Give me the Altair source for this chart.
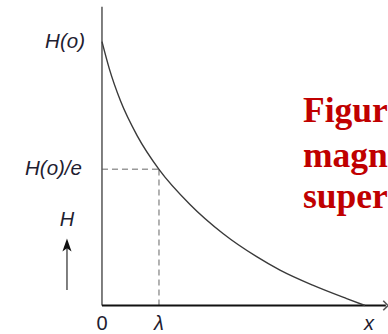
import altair as alt
import pandas as pd

# Field profile H(x) inside the sample, normalised to H(o) = 1 and x in units of lambda
curve_x = [0.0, 0.128, 0.328, 0.619, 1.0, 1.544, 2.128, 2.714, 3.123, 3.707, 4.293, 4.614]
curve_h = [1.0, 0.898, 0.774, 0.643, 0.516, 0.383, 0.272, 0.185, 0.134, 0.076, 0.026, 0.0]

lam = 1.0            # penetration depth
h_lam = 0.516        # field level marked at x = lambda
x_axis_end = 4.98
y_axis_top = 1.132

# Axis-level labels
tick_text = ["H(o)", "H(o)/e"]
tick_value = [1.0, h_lam]
tick_dx = [-17, -20]

bottom_text = ["0", "λ", "x"]
bottom_x = [0.0, lam, 4.684]
bottom_style = ["normal", "italic", "italic"]

# "H" with an upward arrow beside the vertical axis
h_label_x, h_label_y = -0.614, 0.325
arrow_x, arrow_y0, arrow_y1, arrow_head_y = -0.614, 0.059, 0.241, 0.229

# Caption lines
caption_lines = ["Figur", "magn", "super"]
caption_x = 3.526
caption_y = [0.696, 0.526, 0.368]

X_DOMAIN = [-1.789, 5.018]
Y_DOMAIN = [-0.108, 1.158]

xs = alt.Scale(domain=X_DOMAIN, nice=False, zero=False)
ys = alt.Scale(domain=Y_DOMAIN, nice=False, zero=False)

def X(field):
    return alt.X(field, type="quantitative", scale=xs, axis=None)

def Y(field):
    return alt.Y(field, type="quantitative", scale=ys, axis=None)

curve_df = pd.DataFrame({"x": curve_x, "h": curve_h})
curve = alt.Chart(curve_df).mark_line(
    color="#3a3a3a", strokeWidth=1.4, interpolate="monotone"
).encode(x=X("x"), y=Y("h"))

y_axis_line = alt.Chart(pd.DataFrame({"x": [0.0], "y": [0.0], "y2": [y_axis_top]})).mark_rule(
    color="#555555", strokeWidth=1.5
).encode(x=X("x"), y=Y("y"), y2="y2")
x_axis_line = alt.Chart(pd.DataFrame({"x": [0.0], "x2": [x_axis_end], "y": [0.0]})).mark_rule(
    color="#111111", strokeWidth=2
).encode(x=X("x"), x2="x2", y=Y("y"))

x_arrow = alt.Chart(pd.DataFrame({"x": [5.018], "y": [0.0]})).mark_point(
    shape="M-1,-1L0,0L-1,1", filled=False, stroke="#111111",
    strokeWidth=1.6, size=90,
).encode(x=X("x"), y=Y("y"))

dash_h = alt.Chart(pd.DataFrame({"x": [0.0], "x2": [lam], "y": [h_lam]})).mark_rule(
    color="#999999", strokeWidth=1.5, strokeDash=[6, 4]
).encode(x=X("x"), x2="x2", y=Y("y"))
dash_v = alt.Chart(pd.DataFrame({"x": [lam], "y": [0.0], "y2": [h_lam]})).mark_rule(
    color="#999999", strokeWidth=1.5, strokeDash=[6, 4]
).encode(x=X("x"), y=Y("y"), y2="y2")

label_color = "#1e2030"
tick_layers = []
for txt, val, dx in zip(tick_text, tick_value, tick_dx):
    tick_layers.append(
        alt.Chart(pd.DataFrame({"x": [0.0], "y": [val], "t": [txt]})).mark_text(
            align="right", baseline="middle", dx=dx, font="Liberation Sans",
            fontStyle="italic", fontSize=20.5, color=label_color,
        ).encode(x=X("x"), y=Y("y"), text="t:N")
    )

bottom_layers = []
for txt, bx, st in zip(bottom_text, bottom_x, bottom_style):
    bottom_layers.append(
        alt.Chart(pd.DataFrame({"x": [bx], "y": [0.0], "t": [txt]})).mark_text(
            align="center", baseline="top", dy=8, font="Liberation Sans",
            fontStyle=st, fontSize=20, color=label_color,
        ).encode(x=X("x"), y=Y("y"), text="t:N")
    )

h_label = alt.Chart(pd.DataFrame({"x": [h_label_x], "y": [h_label_y], "t": ["H"]})).mark_text(
    align="center", baseline="middle", font="Liberation Sans", fontStyle="italic",
    fontSize=20, color=label_color,
).encode(x=X("x"), y=Y("y"), text="t:N")

arrow_shaft = alt.Chart(pd.DataFrame({"x": [arrow_x], "y": [arrow_y0], "y2": [arrow_y1]})).mark_rule(
    color="#555555", strokeWidth=1.5
).encode(x=X("x"), y=Y("y"), y2="y2")
arrow_head = alt.Chart(pd.DataFrame({"x": [arrow_x], "y": [arrow_head_y]})).mark_point(
    shape="M0,-1L0.7,1L0,0.5L-0.7,1Z", filled=True, color="#111111",
    opacity=1, size=170,
).encode(x=X("x"), y=Y("y"))

caption_df = pd.DataFrame({"x": [caption_x] * len(caption_lines), "y": caption_y, "t": caption_lines})
caption = alt.Chart(caption_df).mark_text(
    align="left", baseline="alphabetic", font="Liberation Serif", fontWeight="bold",
    fontSize=35.5, color="#C00000",
).encode(x=X("x"), y=Y("y"), text="t:N")

chart = alt.layer(
    dash_h, dash_v, y_axis_line, x_axis_line, x_arrow, curve,
    *tick_layers, *bottom_layers, h_label, arrow_shaft, arrow_head, caption,
).properties(
    width=388, height=334, padding=0,
    autosize=alt.AutoSizeParams(type="none"),
    background="white",
).configure_view(stroke=None)

chart.save("out.html", embed_options={"renderer": "svg", "actions": False})
